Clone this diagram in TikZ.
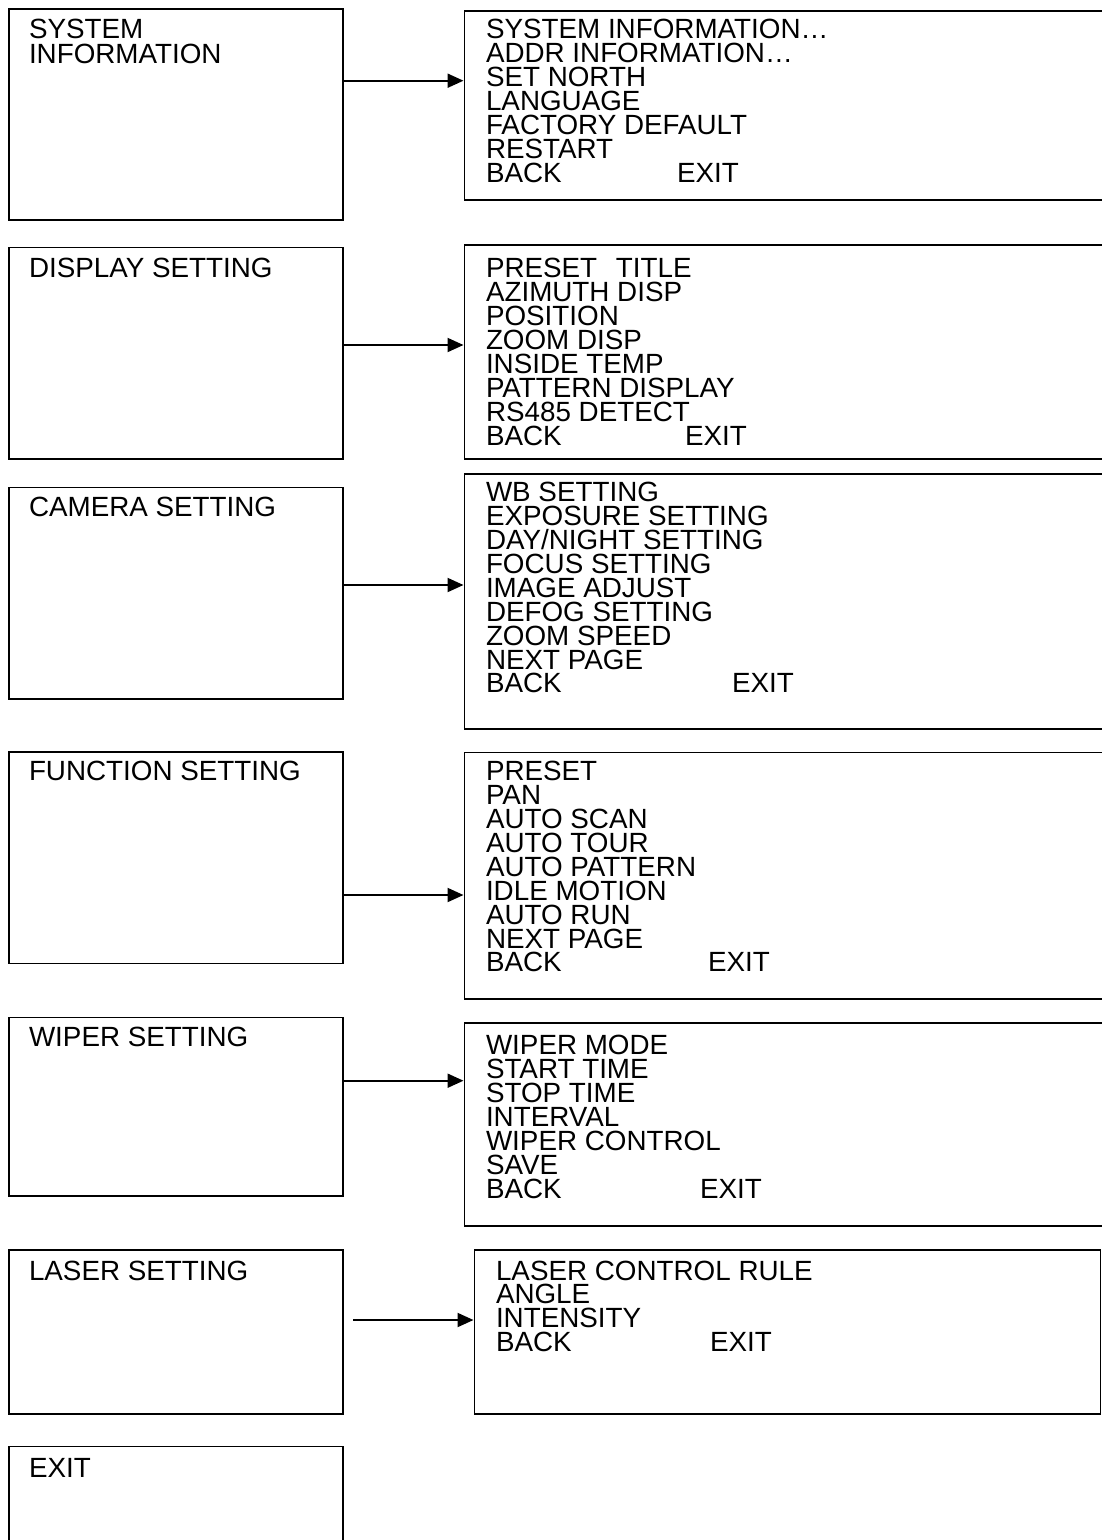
\documentclass[tikz,border=0pt]{standalone}
\usepackage{fontspec}
\setmainfont{Liberation Sans}
\usetikzlibrary{arrows.meta}
\tikzset{
  box/.style={draw, line width=1.6pt, rectangle, inner sep=0pt, anchor=north west},
  txt/.style={anchor=base west, inner sep=0pt, outer sep=0pt, font=\fontsize{27.8}{30}\selectfont},
  arr/.style={line width=2pt, -{Triangle[length=16pt,width=14pt]}},
}
\newcommand\boxat[5]{\node[box, minimum width=#4pt, minimum height=#5pt] (#1) at (#2,#3) {};}
\newcommand\menulines[5]{\foreach \t [count=\i from 0] in {#5} {\node[txt] (#1-\i) at (#2,{#3+\i*#4}) {\t};}}
\newcommand\be[1]{\makebox[#1pt][l]{BACK}EXIT}
\begin{document}
\begin{tikzpicture}[x=1pt,y=-1pt]
\useasboundingbox (0,0) rectangle (1102,1540);
\clip (0,0) rectangle (1102,1540);
% left boxes
\boxat{L1}{8}{8}{334}{211}
\boxat{L2}{8}{246.7}{334}{211.6}
\boxat{L3}{8}{486.7}{334}{211.6}
\boxat{L4}{8}{751}{334}{211.7}
\boxat{L5}{8}{1016.7}{334}{178.3}
\boxat{L6}{8}{1249.3}{334}{164}
\boxat{L7}{8}{1445.7}{334}{140}
% right boxes
\boxat{R1}{463.5}{10}{700}{189}
\boxat{R2}{463.5}{244.3}{700}{214}
\boxat{R3}{463.5}{473.3}{700}{255}
\boxat{R4}{463.5}{751.7}{700}{246.6}
\boxat{R5}{463.5}{1022.3}{700}{202.7}
\boxat{R6}{473.5}{1249.3}{626}{164}
% left texts
\menulines{T1}{29}{38}{25.3}{SYSTEM,INFORMATION}
\node[txt] (T2) at (29,277.3) {DISPLAY SETTING};
\node[txt] (T3) at (29,516.7) {CAMERA SETTING};
\node[txt] (T4) at (29,780.7) {FUNCTION SETTING};
\node[txt] (T5) at (29,1046) {WIPER SETTING};
\node[txt] (T6) at (29,1280) {LASER SETTING};
\node[txt] (T7) at (29,1477) {EXIT};
% right texts
\menulines{M1}{486}{38}{24.1}{SYSTEM INFORMATION…,ADDR INFORMATION…,SET NORTH,LANGUAGE,FACTORY DEFAULT,RESTART,\be{191}}
\menulines{M2}{486}{277}{24}{\makebox[130pt][l]{PRESET}TITLE,AZIMUTH DISP,POSITION,ZOOM DISP,INSIDE TEMP,PATTERN DISPLAY,RS485 DETECT,\be{199}}
\menulines{M3}{486}{501.7}{23.9}{WB SETTING,EXPOSURE SETTING,DAY/NIGHT SETTING,FOCUS SETTING,IMAGE ADJUST,DEFOG SETTING,ZOOM SPEED,NEXT PAGE,\be{246}}
\menulines{M4}{486}{780.7}{23.9}{PRESET,PAN,AUTO SCAN,AUTO TOUR,AUTO PATTERN,IDLE MOTION,AUTO RUN,NEXT PAGE,\be{222}}
\menulines{M5}{486}{1054}{24}{WIPER MODE,START TIME,STOP TIME,INTERVAL,WIPER CONTROL,SAVE,\be{214}}
\menulines{M6}{496}{1280}{23.7}{LASER CONTROL RULE,ANGLE,INTENSITY,\be{214}}
% arrows
\draw[arr] (L1.east |- 0,80.7) -- (R1.west |- 0,80.7);
\draw[arr] (L2.east |- 0,345) -- (R2.west |- 0,345);
\draw[arr] (L3.east |- 0,585) -- (R3.west |- 0,585);
\draw[arr] (L4.east |- 0,895) -- (R4.west |- 0,895);
\draw[arr] (L5.east |- 0,1080.7) -- (R5.west |- 0,1080.7);
\coordinate (A6) at (353,1320);
\draw[arr] (A6) -- (R6.west |- A6);
\end{tikzpicture}
\end{document}
